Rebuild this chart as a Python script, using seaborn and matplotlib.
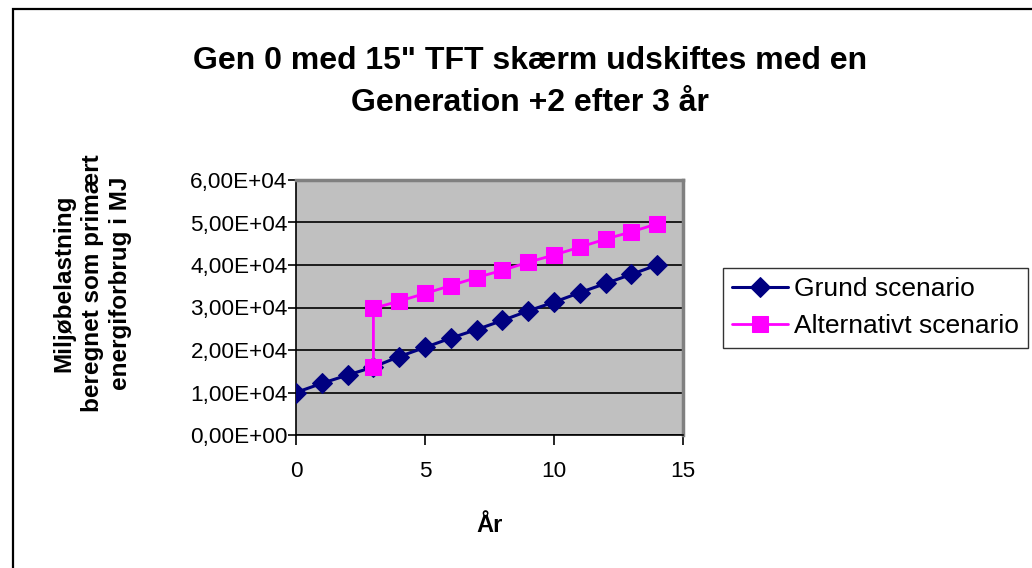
import matplotlib
matplotlib.use("Agg")
import matplotlib.pyplot as plt
import seaborn as sns
import pandas as pd
from matplotlib.patches import Rectangle
from matplotlib.ticker import FuncFormatter, MultipleLocator

# Data
grund_x = [0, 1, 2, 3, 4, 5, 6, 7, 8, 9, 10, 11, 12, 13, 14]
grund_y = [10000, 12150, 14100, 16000, 18450, 20600, 22800, 24800, 26950, 29200,
           31250, 33500, 35650, 37800, 40000]
alt_x = [3, 3, 4, 5, 6, 7, 8, 9, 10, 11, 12, 13, 14]
alt_y = [16050, 29800, 31500, 33300, 35150, 37050, 38750, 40650, 42350, 44200,
         46100, 47800, 49700]
series_names = ["Grund scenario", "Alternativt scenario"]
title = "Gen 0 med 15\" TFT skærm udskiftes med en\nGeneration +2 efter 3 år"
xlabel = "År"
ylabel = "Miljøbelastning\nberegnet som primært\nenergiforbrug i MJ"

sns.set_style("white")
plt.rcParams['font.family'] = ['Liberation Sans', 'DejaVu Sans']
plt.rcParams['text.color'] = 'black'
plt.rcParams['axes.labelcolor'] = 'black'
plt.rcParams['xtick.color'] = 'black'
plt.rcParams['ytick.color'] = 'black'

W, H = 1032, 568
fig = plt.figure(figsize=(W / 100, H / 100), dpi=100)
ax = fig.add_axes([296 / W, 1 - 435 / H, (683 - 296) / W, (435 - 180) / H])

df_g = pd.DataFrame({"x": grund_x, "y": grund_y})
df_a = pd.DataFrame({"x": alt_x, "y": alt_y})

sns.lineplot(data=df_g, x="x", y="y", ax=ax, estimator=None, sort=False,
             color="#000080", marker="D", markersize=10, linewidth=2.2,
             markeredgecolor="#000080", label=series_names[0], zorder=4)
sns.lineplot(data=df_a, x="x", y="y", ax=ax, estimator=None, sort=False,
             color="#FF00FF", marker="s", markersize=11, linewidth=2.0,
             markeredgecolor="#FF00FF", label=series_names[1], zorder=5)

ax.set_facecolor("#C0C0C0")
ax.set_xlim(0, 15)
ax.set_ylim(0, 60000)
ax.xaxis.set_major_locator(MultipleLocator(5))
ax.yaxis.set_major_locator(MultipleLocator(10000))


def fmt(v, pos):
    s = "%.2E" % v
    return s.replace(".", ",")


ax.yaxis.set_major_formatter(FuncFormatter(fmt))
ax.grid(axis="y", color="black", linewidth=1.2)
ax.grid(axis="x", visible=False)
ax.set_axisbelow(True)

for side in ["top", "right"]:
    ax.spines[side].set_color("#808080")
    ax.spines[side].set_linewidth(2.5)
for side in ["left", "bottom"]:
    ax.spines[side].set_color("black")
    ax.spines[side].set_linewidth(1.2)

ax.tick_params(axis="y", direction="out", length=5.5, width=1.2, colors="black",
               labelsize=16.2, pad=0.5, left=True)
ax.tick_params(axis="x", direction="out", length=7, width=1.2, colors="black",
               labelsize=16.2, pad=12, bottom=True)

ax.set_xlabel(xlabel, fontsize=17, fontweight="bold", labelpad=23)
ax.set_ylabel("")
fig.text(92 / W, 1 - 283 / H, ylabel, rotation=90, ha="center", va="center",
         multialignment="center", fontsize=17.5, fontweight="bold",
         linespacing=1.3)

fig.text(530 / W, 1 - 82 / H, title, ha="center", va="center", fontsize=23,
         fontweight="bold", linespacing=1.55)

leg = ax.legend(loc="upper left", bbox_to_anchor=(723 / W, 1 - 268 / H),
                bbox_transform=fig.transFigure, borderaxespad=0, frameon=True,
                fancybox=False, fontsize=19, handlelength=2.1,
                handletextpad=0.25, borderpad=0.35, labelspacing=0.5)
leg.get_frame().set_edgecolor("black")
leg.get_frame().set_linewidth(1.0)
for t in leg.get_texts():
    t.set_color("black")

fig.patches.append(Rectangle((12.5 / W, -0.1), 1.2, 1 - 9.5 / H + 0.1,
                             transform=fig.transFigure, fill=False,
                             edgecolor="black", linewidth=1.6))

fig.savefig("out.png", dpi=100)
